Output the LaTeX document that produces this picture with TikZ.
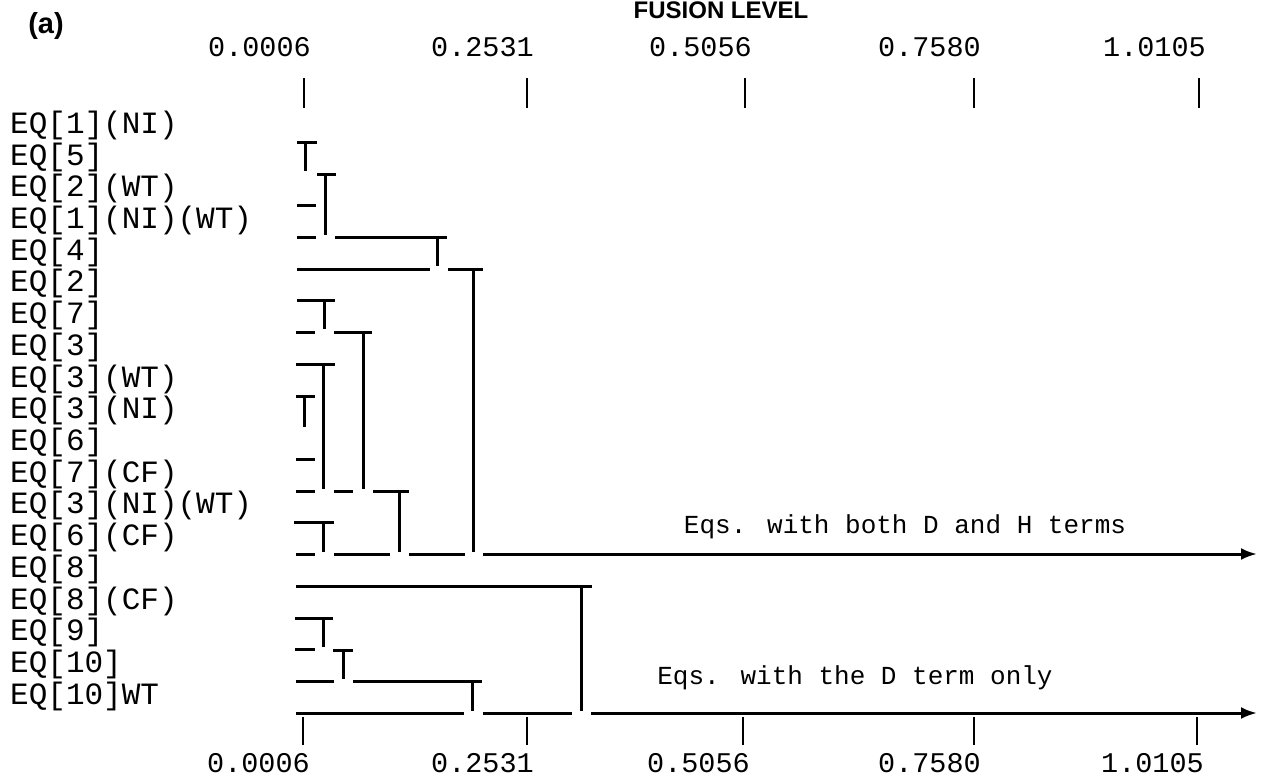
\documentclass[tikz,border=0pt]{standalone}
\usepackage{fontspec}
\newfontfamily\monofam{Liberation Mono}
\newfontfamily\headfam{Liberation Sans}
\usetikzlibrary{arrows.meta}

\begin{document}
\begin{tikzpicture}[
    x=1pt, y=-1pt,
    bar/.style={line width=3pt},
    axtick/.style={line width=1.8pt},
    eqname/.style={anchor=west, inner sep=0pt, font=\monofam\fontsize{31}{36}\selectfont},
    level/.style={anchor=east, inner sep=0pt, font=\monofam\fontsize{28.5}{34}\selectfont},
    note/.style={inner sep=0pt, font=\monofam\fontsize{26}{32}\selectfont},
    head/.style={inner sep=0pt, font=\headfam\bfseries\fontsize{24}{28}\selectfont}
]
\useasboundingbox (0,0) rectangle (1266,780);

% Titles
\node[head, font=\headfam\bfseries\fontsize{29}{34}\selectfont] (panel) at (46,26) {(a)};
\node[head] (title) at (721,10) {FUSION LEVEL};

% Top axis
\node[level] (t0) at (311,47) {0.0006};
\node[level] (t1) at (534,47) {0.2531};
\node[level] (t2) at (752,47) {0.5056};
\node[level] (t3) at (981,47) {0.7580};
\node[level] (t4) at (1206,47) {1.0105};
\draw[axtick] (304,78) -- (304,108);
\draw[axtick] (527,78) -- (527,108);
\draw[axtick] (745,78) -- (745,108);
\draw[axtick] (974,78) -- (974,108);
\draw[axtick] (1199,78) -- (1199,108);

% Equation names
\node[eqname] (a) at (10,125) {EQ[1](NI)};
\node[eqname] (b) at (10,157) {EQ[5]};
\node[eqname] (c) at (10,188) {EQ[2](WT)};
\node[eqname] (d) at (10,220) {EQ[1](NI)(WT)};
\node[eqname] (e) at (10,252) {EQ[4]};
\node[eqname] (f) at (10,283) {EQ[2]};
\node[eqname] (g) at (10,315) {EQ[7]};
\node[eqname] (h) at (10,347) {EQ[3]};
\node[eqname] (i) at (10,379) {EQ[3](WT)};
\node[eqname] (j) at (10,410) {EQ[3](NI)};
\node[eqname] (k) at (10,442) {EQ[6]};
\node[eqname] (l) at (10,474) {EQ[7](CF)};
\node[eqname] (m) at (10,505) {EQ[3](NI)(WT)};
\node[eqname] (n) at (10,537) {EQ[6](CF)};
\node[eqname] (o) at (10,569) {EQ[8]};
\node[eqname] (p) at (10,601) {EQ[8](CF)};
\node[eqname] (q) at (10,632) {EQ[9]};
\node[eqname] (r) at (10,664) {EQ[10]};
\node[eqname] (s) at (10,696) {EQ[10]WT};

% Upper cluster: D and H terms
\draw[bar] (297,142) -- (317,142);  \draw[bar] (305,142) -- (305,171);
\draw[bar] (317,174) -- (336,174);  \draw[bar] (325,174) -- (325,235);
\draw[bar] (297,205) -- (316,205);
\draw[bar] (297,237) -- (316,237);
\draw[bar] (335,237) -- (447,237);  \draw[bar] (437,237) -- (437,266);
\draw[bar] (297,269) -- (430,269);
\draw[bar] (448,269) -- (483,269);  \draw[bar] (473,269) -- (473,552);
\draw[bar] (297,300) -- (335,300);  \draw[bar] (324,300) -- (324,329);
\draw[bar] (296,332) -- (315,332);
\draw[bar] (334,332) -- (372,332);  \draw[bar] (363,332) -- (363,489);
\draw[bar] (296,364) -- (335,364);  \draw[bar] (323,364) -- (323,489);
\draw[bar] (296,396) -- (315,396);  \draw[bar] (304,396) -- (304,427);
\draw[bar] (296,459) -- (315,459);
\draw[bar] (296,491) -- (315,491);
\draw[bar] (334,491) -- (353,491);
\draw[bar] (373,491) -- (409,491);  \draw[bar] (399,491) -- (399,552);
\draw[bar] (294,522) -- (334,522);  \draw[bar] (323,522) -- (323,552);
\draw[bar] (296,554) -- (315,554);
\draw[bar] (334,554) -- (390,554);
\draw[bar] (409,554) -- (465,554);
\coordinate (dh) at (1257,554);
\draw[bar, -{Latex[length=16pt,width=12pt]}] (483,554) -- (dh);
\node[note] (dhnote) at (905,527) {Eqs. with both D and H terms};

% Lower cluster: D term only
\draw[bar] (296,586) -- (592,586);  \draw[bar] (581,586) -- (581,711);
\draw[bar] (295,618) -- (333,618);  \draw[bar] (323,618) -- (323,647);
\draw[bar] (295,649) -- (315,649);
\draw[bar] (333,650) -- (353,650);  \draw[bar] (343,650) -- (343,679);
\draw[bar] (296,681) -- (334,681);
\draw[bar] (353,681) -- (482,681);  \draw[bar] (472,681) -- (472,711);
\draw[bar] (296,713) -- (464,713);
\draw[bar] (483,713) -- (572,713);
\coordinate (donly) at (1257,713);
\draw[bar, -{Latex[length=16pt,width=12pt]}] (591,713) -- (donly);
\node[note] (dnote) at (855,678) {Eqs. with the D term only};

% Bottom axis
\draw[axtick] (303,717) -- (303,745);
\draw[axtick] (527,717) -- (527,745);
\draw[axtick] (743,717) -- (743,745);
\draw[axtick] (974,717) -- (974,745);
\draw[axtick] (1197,717) -- (1197,745);
\node[level] (b0) at (310,763) {0.0006};
\node[level] (b1) at (534,763) {0.2531};
\node[level] (b2) at (750,763) {0.5056};
\node[level] (b3) at (981,763) {0.7580};
\node[level] (b4) at (1204,763) {1.0105};

\end{tikzpicture}
\end{document}
